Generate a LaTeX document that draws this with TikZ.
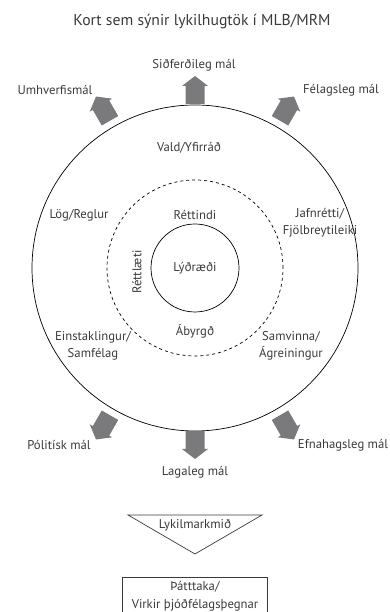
\documentclass[tikz,border=0pt]{standalone}
\usepackage{fontspec}
\setmainfont{PT Sans}
\usetikzlibrary{positioning,calc,shapes.geometric}
\definecolor{txt}{HTML}{3A3A3A}
\definecolor{arrowgray}{HTML}{7A7A7C}
\tikzset{
  lbl/.style={font=\fontsize{12.7}{17.5}\selectfont,text=txt,align=center,inner sep=0pt},
  ringnode/.style={circle,draw=black,line width=0.7pt,inner sep=0pt},
  housearrow/.pic={\fill[arrowgray] (-9.5,0) -- (9.5,0) -- (9.5,18) -- (13,18) -- (0,28) -- (-13,18) -- (-9.5,18) -- cycle;}
}
\begin{document}
\begin{tikzpicture}[x=1pt,y=1pt]
	\useasboundingbox (0,0) rectangle (390,612);
	\node (title) [lbl,font=\fontsize{15.7}{18}\selectfont] at (202,590) {Kort sem sýnir lykilhugtök í MLB/MRM};
	\node (outer) [ringnode,minimum size=326pt] at (195,344) {};
	\node (ring) [ringnode,dashed,minimum size=176pt] at (outer.center) {};
	\node (core) [ringnode,minimum size=88pt,lbl] at (outer.center) {Lýðræði};
	\foreach \ang/\dist in {90/164,60/170,120/170,240/170,270/163,300/170}
		\pic[rotate=\ang-90] at ([shift={(\ang:\dist)}]outer.center) {housearrow};
	\node (ethics) [lbl] at (194,547) {Siðferðileg mál};
	\node (environ) [lbl] at (55,522) {Umhverfismál};
	\node (social) [lbl] at (341,522) {Félagsleg mál};
	\node (power) [lbl] at (189,464) {Vald/Yfirráð};
	\node (law) [lbl] at (79,397) {Lög/Reglur};
	\node (rights) [lbl,above=4pt of core.north] {Réttindi};
	\node (equality) [lbl] at (320,389) {Jafnrétti/\\Fjölbreytileiki};
	\node (justice) [lbl,rotate=90] at (137,340) {Réttlæti};
	\node (duty) [lbl,below=12pt of core.south] {Ábyrgð};
	\node (individual) [lbl] at (93,266) {Einstaklingur/\\Samfélag};
	\node (cooperation) [lbl] at (291,266) {Samvinna/\\Ágreiningur};
	\node (political) [lbl] at (59,167) {Pólitísk mál};
	\node (economic) [lbl] at (343,167) {Efnahagsleg mál};
	\node (legal) [lbl] at (195,140) {Lagaleg mál};
	\draw [draw=txt,line width=0.7pt] (128,97) -- (262,97) -- (195,58) -- cycle;
	\node (goal) [lbl,fill=white,inner sep=1pt] at (195,87) {Lykilmarkmið};
	\node (participation) [lbl,draw=txt,line width=0.7pt,minimum width=145pt,minimum height=38pt,anchor=north] at (195,35) {Þátttaka/\\Virkir þjóðfélagsþegnar};
\end{tikzpicture}
\end{document}
